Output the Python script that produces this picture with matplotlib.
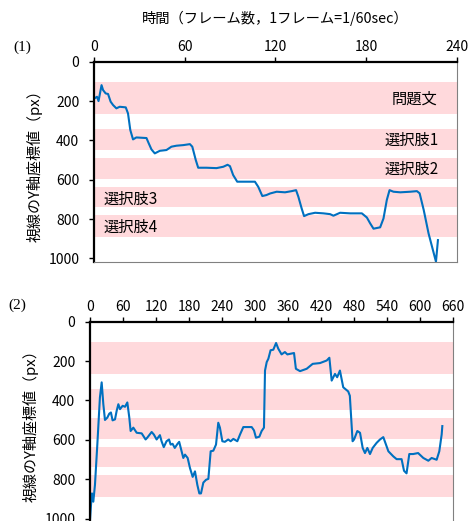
import matplotlib
matplotlib.use('Agg')
import matplotlib.pyplot as plt

plt.rcParams['font.family'] = ['Noto Sans CJK JP', 'DejaVu Sans']

### data
# (1) frame number / y coordinate of gaze
f1 = [0.4, 2, 3, 5, 6, 7.7, 9.3, 11, 12.6, 14.8, 17, 21, 22.5, 24, 25.8, 28, 34.7, 36.2, 38, 40.2,
      43.5, 47.9, 51.2, 54.5, 59, 63.4, 65, 67.3, 68.9, 74.4, 81, 85.5, 88.3, 89.9, 92, 94.7, 101,
      106.4, 108.6, 111.3, 114, 116.4, 120.8, 126.3, 130.7, 133.6, 135.1, 137.3, 138.9, 141.8,
      146.2, 151.7, 156.1, 158.3, 162.7, 169.4, 177.1, 180.4, 182.6, 184.8, 189.2, 191.4, 193.6,
      195.4, 198, 202.5, 209.1, 213.5, 215.3, 218, 221.2, 224.1, 226.1, 227.4]
y1 = [186, 178, 200, 119, 144, 161, 164, 203, 220, 237, 229, 232, 263, 347, 395, 385, 388, 415, 446, 466,
      453, 449, 432, 427, 424, 419, 432, 500, 539, 539, 541, 534, 524, 531, 576, 610, 610,
      610, 636, 683, 678, 670, 661, 664, 658, 653, 686, 746, 785, 775,
      768, 771, 775, 783, 768, 771, 771, 792, 822, 849, 842, 797, 703,
      653, 661, 664, 661, 658, 669, 754, 873, 958, 1017, 907]

# (2)
f2 = [0, 1.8, 3.6, 6, 9, 13.3, 18, 21.2, 24.2, 27.2, 31.5, 35, 38, 41, 45.4, 48.4, 51.5, 54.5, 59.3,
      63.6, 67.8, 71.4, 73.8, 78.7, 84.8, 93.9, 101, 104, 112, 116, 121, 127, 130, 134, 139, 143.5,
      146.5, 150, 154, 159, 162, 166.5, 169.5, 172.6, 177.4, 181.6, 186.5, 190.7, 195, 198.6, 201.6,
      205.9, 210.7, 215, 219.2, 224, 228.9, 233, 236, 240.4, 245, 251, 255.5, 260.4, 267.6, 272.5,
      278.5, 293.7, 297.9, 301.5, 307.6, 311.8, 316, 317.9, 321, 324, 328, 333, 338, 342, 348, 354,
      358.5, 370.6, 374, 381.5, 393.6, 404.5, 417.8, 430, 434.8, 439, 445, 449, 454, 460, 469, 472,
      477, 479.7, 485.6, 490.5, 495.3, 499.5, 503.8, 508.6, 513.5, 520.7, 526.8, 532.8, 537.7, 542,
      551, 557, 566, 570.4, 575, 580, 587, 596, 605.5, 614.6, 620.6, 629.7, 634.5, 637, 638.8, 640]
y2 = [1008, 931, 872, 914, 829, 624, 385, 308, 419, 499, 487, 467, 461, 501, 496, 453, 419, 444, 427,
      432, 410, 487, 555, 538, 564, 567, 598, 589, 560, 573, 598, 576, 607, 637, 607, 598,
      624, 620, 641, 620, 610, 658, 692, 675, 692, 743, 788, 760, 829, 872, 872,
      817, 803, 798, 658, 655, 624, 513, 538, 607, 610, 598, 607, 595, 607, 573,
      535, 535, 552, 589, 584, 555, 538, 248, 205, 188, 145, 142, 108, 137, 166, 154,
      166, 159, 239, 251, 239, 214, 210, 197, 183, 299, 265, 282, 248, 333, 354, 376,
      607, 598, 555, 564, 641, 667, 641, 672, 641, 615, 598, 586, 624, 658,
      684, 698, 698, 757, 770, 672, 672, 667, 692, 706, 692, 701, 658, 607, 573, 530]

# screen regions (px)
band_lo = [105, 340, 490, 635, 780]
band_hi = [265, 450, 595, 740, 890]
band_names = ['問題文', '選択肢1', '選択肢2', '選択肢3', '選択肢4']

xlabel = '時間（フレーム数，1フレーム=1/60sec）'
ylabel = '視線のY軸座標値（px）'

line_color = '#0070C0'
band_color = '#FFD9DC'

fig = plt.figure(figsize=(4.69, 5.21), dpi=100)


def style_axes(ax, xmax, xstep):
    for lo, hi in zip(band_lo, band_hi):
        ax.axhspan(lo, hi, color=band_color, lw=0, zorder=0)
    ax.set_xlim(0, xmax)
    ax.set_ylim(1020, 0)
    ax.set_xticks(range(0, xmax + 1, xstep))
    ax.set_yticks(range(0, 1001, 200))
    ax.xaxis.tick_top()
    ax.tick_params(direction='out', length=3.6, width=1, labelsize=10)
    ax.tick_params(axis='y', pad=7)
    ax.tick_params(axis='x', pad=2)
    ax.spines['left'].set_linewidth(1.6)
    ax.spines['top'].set_linewidth(1.6)
    ax.spines['right'].set_color('#808080')
    ax.spines['bottom'].set_color('#808080')
    ax.spines['right'].set_linewidth(0.8)
    ax.spines['bottom'].set_linewidth(0.8)
    ax.set_ylabel(ylabel, fontsize=10.8, labelpad=4)


## (1)
ax1 = fig.add_axes([0.2004, 0.4965, 0.774, 0.385])
style_axes(ax1, 240, 60)
ax1.plot(f1, y1, color=line_color, lw=1.5)
ax1.xaxis.set_label_position('top')
ax1.set_xlabel(xlabel, fontsize=10.3, labelpad=12)
# region names
ax1.text(227, 190, band_names[0], ha='right', va='center', fontsize=11)
ax1.text(228, 398, band_names[1], ha='right', va='center', fontsize=11)
ax1.text(228, 545, band_names[2], ha='right', va='center', fontsize=11)
ax1.text(6, 700, band_names[3], ha='left', va='center', fontsize=11)
ax1.text(6, 840, band_names[4], ha='left', va='center', fontsize=11)
fig.text(0.028, 0.91, '(1)', family='Liberation Serif', fontsize=11, va='center')

## (2)
ax2 = fig.add_axes([0.1919, -0.003, 0.7747, 0.3855])
style_axes(ax2, 660, 60)
ax2.plot(f2, y2, color=line_color, lw=1.5)
fig.text(0.018, 0.415, '(2)', family='Liberation Serif', fontsize=11, va='center')

plt.savefig('out.png', dpi=100)
